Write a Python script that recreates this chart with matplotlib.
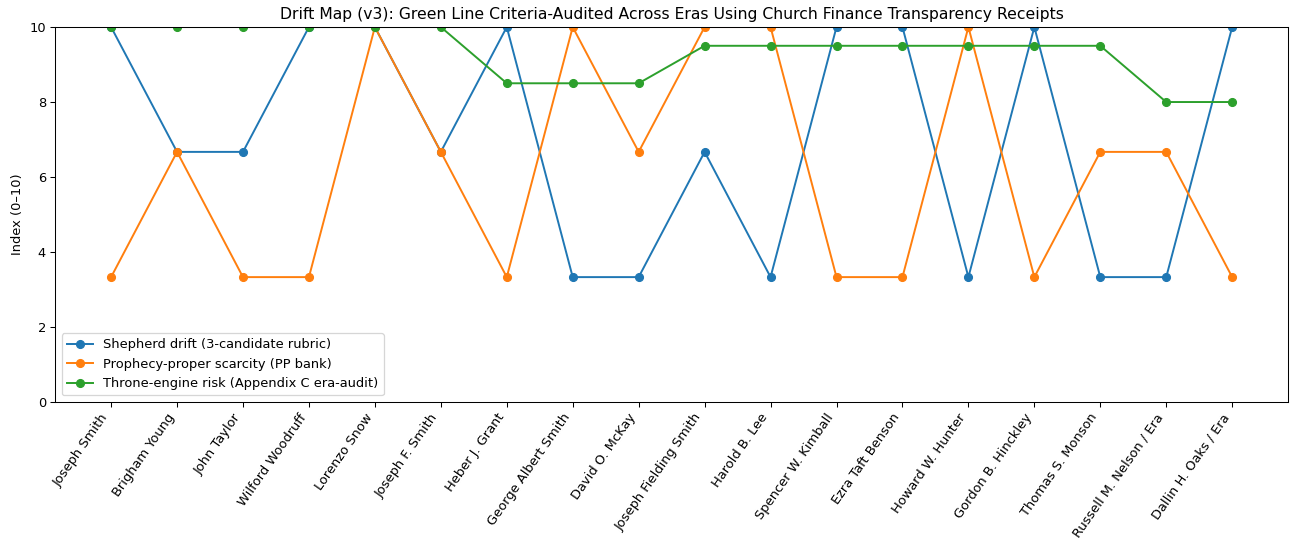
import matplotlib.pyplot as plt

eras = [
    "Joseph Smith", "Brigham Young", "John Taylor", "Wilford Woodruff",
    "Lorenzo Snow", "Joseph F. Smith", "Heber J. Grant", "George Albert Smith",
    "David O. McKay", "Joseph Fielding Smith", "Harold B. Lee",
    "Spencer W. Kimball", "Ezra Taft Benson", "Howard W. Hunter",
    "Gordon B. Hinckley", "Thomas S. Monson", "Russell M. Nelson / Era",
    "Dallin H. Oaks / Era",
]
shepherd_drift = [10, 6.67, 6.67, 10, 10, 6.67, 10, 3.33, 3.33, 6.67,
                  3.33, 10, 10, 3.33, 10, 3.33, 3.33, 10]
prophecy_scarcity = [3.33, 6.67, 3.33, 3.33, 10, 6.67, 3.33, 10, 6.67, 10,
                     10, 3.33, 3.33, 10, 3.33, 6.67, 6.67, 3.33]
throne_risk = [10, 10, 10, 10, 10, 10, 8.5, 8.5, 8.5, 9.5,
               9.5, 9.5, 9.5, 9.5, 9.5, 9.5, 8, 8]

# rendered a bit larger then shown at 1298x541, so use a lower dpi
fig, ax = plt.subplots(figsize=(13.87, 5.78), dpi=93.6)
fig.subplots_adjust(left=0.0424, right=0.9923, top=0.950, bottom=0.257)
x = range(len(eras))
ax.plot(x, shepherd_drift, marker="o", label="Shepherd drift (3-candidate rubric)")
ax.plot(x, prophecy_scarcity, marker="o", label="Prophecy-proper scarcity (PP bank)")
ax.plot(x, throne_risk, marker="o", label="Throne-engine risk (Appendix C era-audit)")
ax.set_xticks(list(x))
ax.set_xticklabels(eras, rotation=55, ha="right")
ax.set_ylim(0, 10)
ax.set_ylabel("Index (0\u201310)")
ax.set_title("Drift Map (v3): Green Line Criteria-Audited Across Eras Using Church Finance Transparency Receipts")
ax.legend(loc="lower left")
fig.savefig("out.png")
